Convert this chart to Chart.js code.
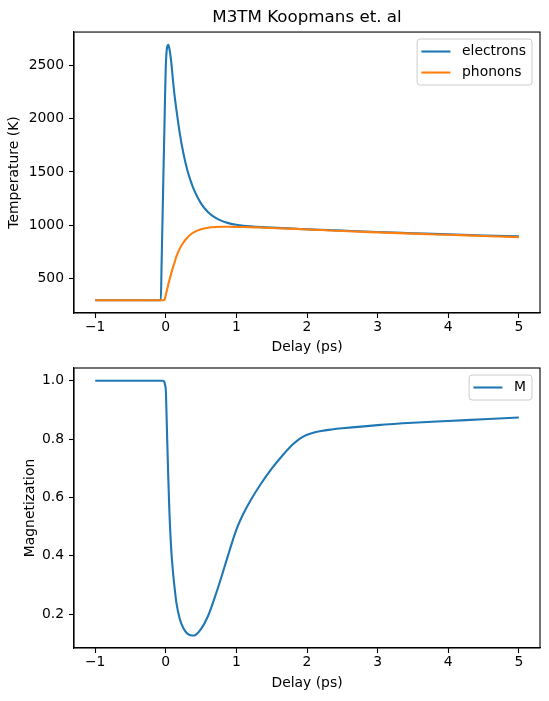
<!DOCTYPE html>
<html>
<head>
<meta charset="utf-8">
<script src="https://cdn.jsdelivr.net/npm/chart.js@4.4.1/dist/chart.umd.min.js"></script>
<style>
  body { margin: 0; background: #fff; }
  #wrap { position: relative; width: 549px; height: 701px; }
  canvas { position: absolute; left: 0; }
</style>
</head>
<body>
<div id="wrap">
  <canvas id="temp" width="549" height="360" style="top:0px"></canvas>
  <canvas id="mag" width="549" height="361" style="top:340px"></canvas>
</div>
<script>
// valores
const delay = [-1, -0.5, -0.08, -0.07, -0.06, -0.05, -0.04, -0.03, -0.02, -0.01,
  0, 0.01, 0.02, 0.035, 0.05, 0.075, 0.1, 0.125, 0.15, 0.2, 0.25, 0.3, 0.35, 0.4,
  0.5, 0.6, 0.7, 0.8, 0.9, 1.0, 1.1, 1.2, 1.35, 1.5, 1.65, 1.8, 1.9, 2.0, 2.1, 2.2,
  2.35, 2.5, 3, 3.5, 4, 4.5, 5]
const electrons = [300, 300, 300, 300, 620, 940, 1260, 1590, 1900, 2220,
  2490, 2615, 2672, 2690, 2658, 2545, 2370, 2212, 2084, 1855, 1673, 1531, 1421, 1332,
  1204, 1124, 1073, 1040, 1019, 1006, 997, 991, 984, 979, 975, 970, 967, 964, 961, 959,
  955, 951, 938, 927, 916, 906, 898]
const phonons = [300, 300, 300, 300, 300, 300, 300, 300, 303, 320,
  350, 378, 405, 445, 485, 545, 605, 655, 710, 785, 840, 882, 915, 938,
  965, 979, 985, 987, 987, 986, 985, 983, 980, 976, 972, 968, 965, 962, 959, 957,
  953, 948, 935, 923, 912, 901, 890]
const magnetization = [1, 1, 1, 1, 1, 1, 1, 0.999, 0.995, 0.985,
  0.97, 0.89, 0.80, 0.67, 0.56, 0.43, 0.35, 0.29, 0.24, 0.182, 0.152, 0.135, 0.128, 0.127,
  0.15, 0.195, 0.262, 0.337, 0.416, 0.49, 0.545, 0.59, 0.648, 0.699, 0.743, 0.782, 0.802, 0.815, 0.823, 0.828,
  0.833, 0.837, 0.848, 0.856, 0.862, 0.868, 0.874]

const delayTicks = [-1, 0, 1, 2, 3, 4, 5]
const tempTicks = [500, 1000, 1500, 2000, 2500]
const magTicks = [0.2, 0.4, 0.6, 0.8, 1.0]

Chart.defaults.font.family = 'DejaVu Sans'
Chart.defaults.font.size = 13.9
Chart.defaults.color = '#000'

const pts = (ys) => delay.map((d, i) => ({ x: d, y: ys[i] }))

// moldura (4 lados) e legenda dentro do gráfico, estilo matplotlib
const frame = {
  id: 'frame',
  afterDraw(chart) {
    const { ctx, chartArea: a } = chart
    ctx.save()
    ctx.strokeStyle = '#000'
    ctx.lineWidth = 1.1
    ctx.strokeRect(a.left, a.top, a.right - a.left, a.bottom - a.top)

    const sets = chart.data.datasets
    ctx.font = '13.9px "DejaVu Sans"'
    let tw = 0
    sets.forEach(s => { tw = Math.max(tw, ctx.measureText(s.label).width) })
    const w = 4.3 + 29 + 11.6 + tw + 6
    const h = sets.length * 21 + 4
    const x0 = a.right - 8 - w
    const y0 = a.top + 7
    ctx.beginPath()
    ctx.roundRect(x0, y0, w, h, 3)
    ctx.fillStyle = 'rgba(255,255,255,0.8)'
    ctx.fill()
    ctx.strokeStyle = '#cccccc'
    ctx.lineWidth = 1
    ctx.stroke()
    sets.forEach((s, i) => {
      const cy = y0 + 12.5 + i * 21
      ctx.beginPath()
      ctx.moveTo(x0 + 4.3, cy)
      ctx.lineTo(x0 + 33.3, cy)
      ctx.strokeStyle = s.borderColor
      ctx.lineWidth = 2.1
      ctx.stroke()
      ctx.fillStyle = '#000'
      ctx.textBaseline = 'middle'
      ctx.textAlign = 'left'
      ctx.fillText(s.label, x0 + 44.9, cy)
    })
    ctx.restore()
  }
}

function xAxis(height, titleBottom) {
  return {
    type: 'linear',
    min: -1.3,
    max: 5.3,
    afterBuildTicks: (ax) => { ax.ticks = delayTicks.map(v => ({ value: v })) },
    afterFit: (ax) => { ax.height = height },
    ticks: {
      autoSkip: false, maxRotation: 0, padding: 1.5,
      callback: (v) => v < 0 ? '\u2212' + Math.abs(v) : String(v)
    },
    grid: { drawOnChartArea: false, color: '#000', tickLength: 5, tickWidth: 1.1 },
    border: { color: '#000', width: 1.1 },
    title: { display: true, text: 'Delay (ps)', padding: { top: 0, bottom: titleBottom } }
  }
}

function yAxis(min, max, tickVals, fmt, label, titleTop) {
  return {
    type: 'linear',
    min, max,
    afterBuildTicks: (ax) => { ax.ticks = tickVals.map(v => ({ value: v })) },
    afterFit: (ax) => { ax.width = 74 },
    ticks: { autoSkip: false, padding: 5, callback: fmt },
    grid: { drawOnChartArea: false, color: '#000', tickLength: 5, tickWidth: 1.1 },
    border: { color: '#000', width: 1.1 },
    title: { display: true, text: label, padding: { top: titleTop, bottom: 0 } }
  }
}

const line = (label, ys, color, order) => ({
  label, data: pts(ys), borderColor: color, backgroundColor: color,
  borderWidth: 2.1, pointRadius: 0, fill: false,
  cubicInterpolationMode: 'monotone', order
})

new Chart(document.getElementById('temp'), {
  type: 'line',
  data: {
    datasets: [
      line('electrons', electrons, '#1f77b4', 1),
      line('phonons', phonons, '#ff7f0e', 0)
    ]
  },
  options: {
    responsive: false,
    animation: false,
    layout: { padding: { left: 0, right: 9, top: 0, bottom: 0 } },
    scales: {
      x: xAxis(47, 4.3),
      y: yAxis(180.5, 2809.5, tempTicks, (v) => String(v), 'Temperature (K)', 6.2)
    },
    plugins: {
      legend: { display: false },
      tooltip: { enabled: false },
      title: {
        display: true, fullSize: false,
        text: 'M3TM Koopmans et. al',
        font: { size: 16.7, weight: 'normal' },
        padding: { top: 8, bottom: 4 }
      }
    }
  },
  plugins: [frame]
})

new Chart(document.getElementById('mag'), {
  type: 'line',
  data: {
    datasets: [line('M', magnetization, '#1f77b4', 0)]
  },
  options: {
    responsive: false,
    animation: false,
    layout: { padding: { left: 0, right: 9, top: 28, bottom: 0 } },
    scales: {
      x: xAxis(53, 9),
      y: yAxis(0.0844, 1.0436, magTicks, (v) => v.toFixed(1), 'Magnetization', 21.9)
    },
    plugins: {
      legend: { display: false },
      tooltip: { enabled: false }
    }
  },
  plugins: [frame]
})
</script>
</body>
</html>
